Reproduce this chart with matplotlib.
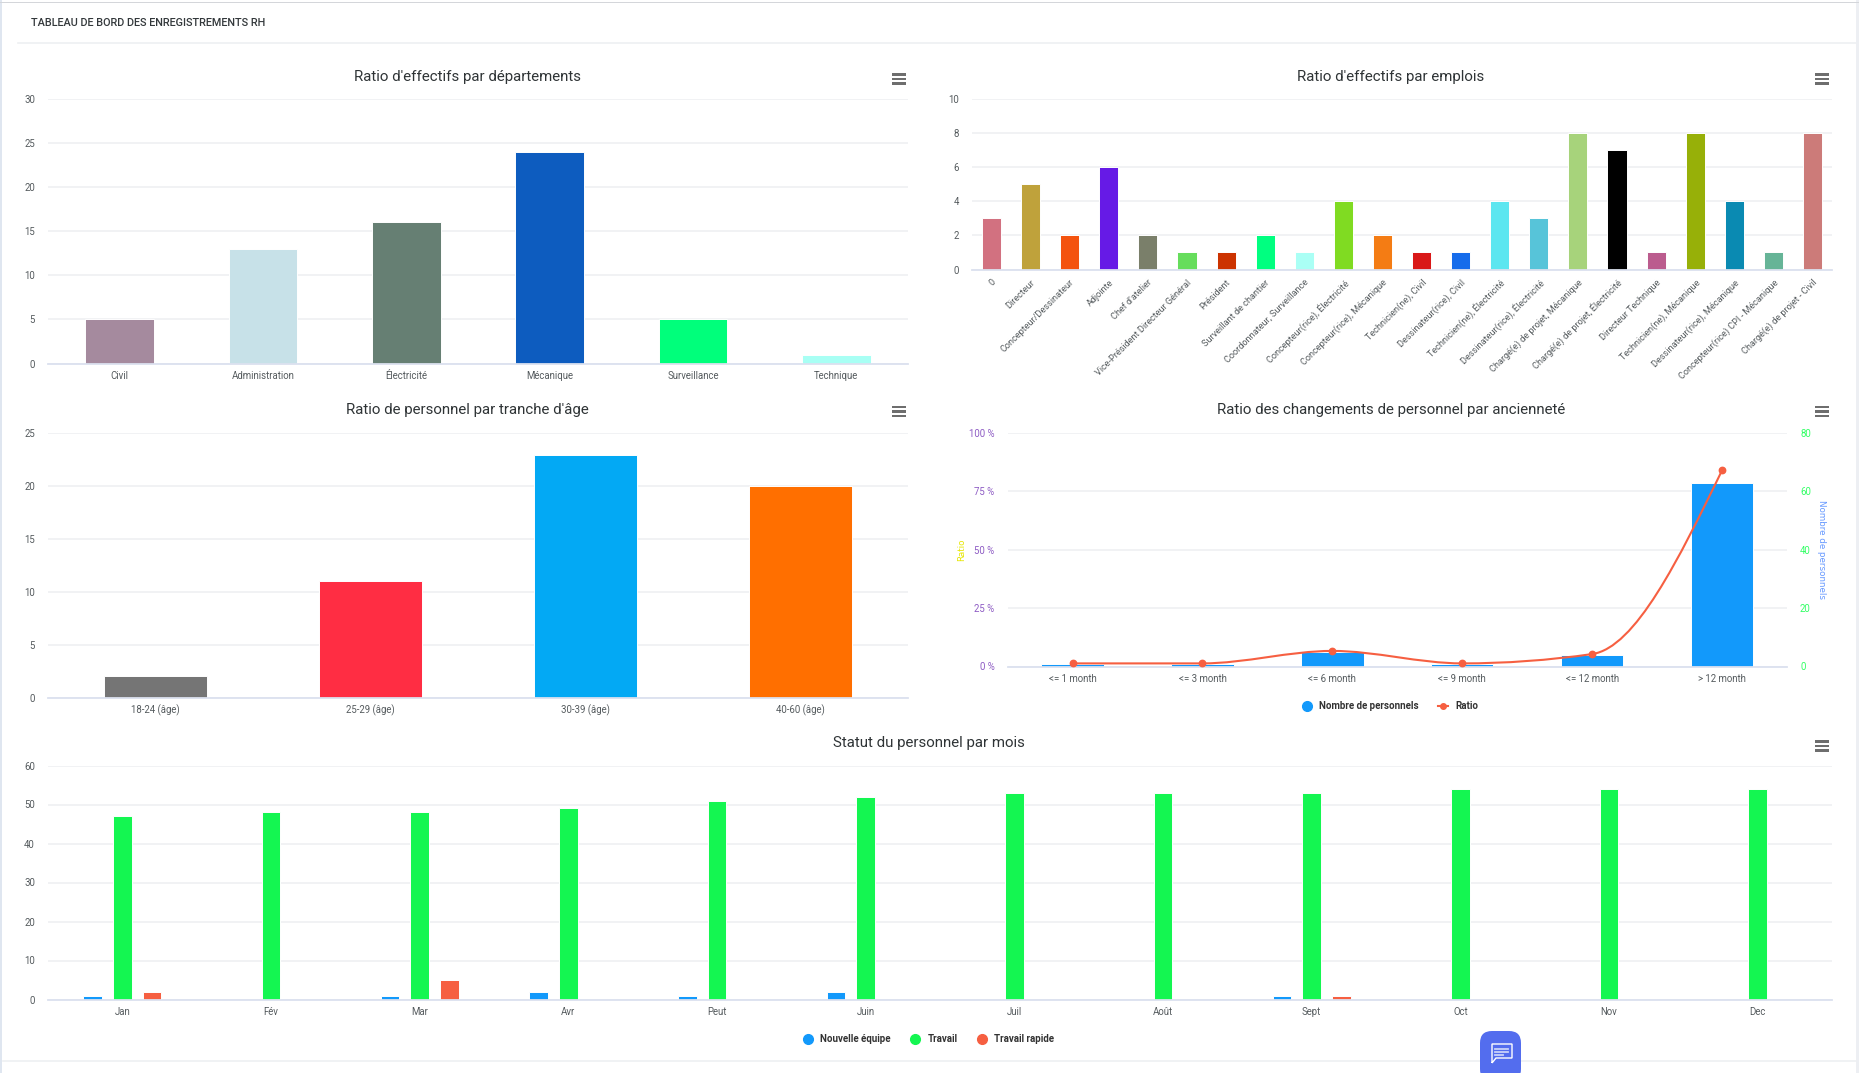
import numpy as np
import matplotlib
matplotlib.use("Agg")
import matplotlib.pyplot as plt
from matplotlib.path import Path
from matplotlib.patches import PathPatch, Rectangle, FancyBboxPatch
from matplotlib.lines import Line2D

plt.rcParams['font.family'] = ['Roboto', 'DejaVu Sans']

W, H = 1859, 1073

# ---------- data ----------
dept_labels = ["Civil", "Administration", "Électricité", "Mécanique", "Surveillance", "Technique"]
dept_values = [5, 13, 16, 24, 5, 1]
dept_colors = ["#A58A9E", "#C7E1E8", "#667F73", "#0D5CBF", "#00FF7B", "#A8FFF4"]

job_labels = ["0", "Directeur", "Concepteur/Dessinateur", "Adjointe", "Chef d'atelier",
              "Vice-Président Directeur Général", "Président", "Surveillant de chantier",
              "Coordonnateur, Surveillance", "Concepteur(rice), Électricité",
              "Concepteur(rice), Mécanique", "Technicien(ne), Civil", "Dessinateur(rice), Civil",
              "Technicien(ne), Électricité", "Dessinateur(rice), Électricité",
              "Chargé(e) de projet, Mécanique", "Chargé(e) de projet, Électricité",
              "Directeur Technique", "Technicien(ne), Mécanique", "Dessinateur(rice), Mécanique",
              "Concepteur(rice) CPI - Mécanique", "Chargé(e) de projet - Civil"]
job_values = [3, 5, 2, 6, 2, 1, 1, 2, 1, 4, 2, 1, 1, 4, 3, 8, 7, 1, 8, 4, 1, 8]
job_colors = ["#D27180", "#BFA23B", "#F4530F", "#661AE6", "#7A7F6A", "#66DD5C", "#CC3300",
              "#00FF80", "#AAFFF5", "#80DB22", "#F47C14", "#D91818", "#166CEB", "#5CE6F0",
              "#57C4D9", "#A7D37B", "#000000", "#BB5C8E", "#97B008", "#0A8AB2", "#66B497", "#CC7B79"]

age_labels = ["18-24 (âge)", "25-29 (âge)", "30-39 (âge)", "40-60 (âge)"]
age_values = [2, 11, 23, 20]
age_colors = ["#757575", "#FF2D43", "#03A9F4", "#FF6F00"]

tenure_labels = ["<= 1 month", "<= 3 month", "<= 6 month", "<= 9 month", "<= 12 month", "> 12 month"]
tenure_counts = [1, 1, 5, 1, 4, 63]
tenure_ratio = [1.33, 1.33, 6.67, 1.33, 5.33, 84.0]

months = ["Jan", "Fév", "Mar", "Avr", "Peut", "Juin", "Juil", "Août", "Sept", "Oct", "Nov", "Dec"]
new_team = [1, 0, 1, 2, 1, 2, 0, 0, 1, 0, 0, 0]
work = [47, 48, 48, 49, 51, 52, 53, 53, 53, 54, 54, 54]
fast_work = [2, 0, 5, 0, 0, 0, 0, 0, 1, 0, 0, 0]

# ---------- style ----------
TICK = "#555b5e"
GRID = "#f0f1f3"
BASE = "#dbe1ef"
TITLE = "#2f3436"
FS_TICK = 6.9
FS_TITLE = 10.8
BLUE, GREEN, RED = "#1299FB", "#14F651", "#F65F41"

fig = plt.figure(figsize=(W / 100, H / 100), dpi=100, facecolor="white")


def make_axes(left, right, top, bottom):
    return fig.add_axes([left / W, 1 - bottom / H, (right - left) / W, (bottom - top) / H])


def style(ax, ymax, step, n, title, cx, cy, box):
    left, right, top, bottom = box
    ax.set_xlim(-0.5, n - 0.5)
    ax.set_ylim(0, ymax)
    ax.set_yticks(np.arange(0, ymax + step, step))
    ax.grid(axis="y", color=GRID, lw=1.3)
    ax.set_axisbelow(True)
    for s in ("top", "right", "left"):
        ax.spines[s].set_visible(False)
    ax.spines["bottom"].set_color(BASE)
    ax.spines["bottom"].set_linewidth(1.3)
    ax.tick_params(axis="both", length=0, labelsize=FS_TICK, labelcolor=TICK)
    ax.tick_params(axis="y", pad=9.4)
    ax.tick_params(axis="x", pad=5.2)
    ax.set_title(title, fontsize=FS_TITLE, color=TITLE, va="center", pad=0,
                 x=(cx - left) / (right - left), y=(bottom - cy) / (bottom - top))


# Departments
box = (48, 908, 99, 363.5)
ax1 = make_axes(*box)
ax1.bar(range(6), dept_values, width=0.48, color=dept_colors, edgecolor="white", linewidth=0.7)
style(ax1, 30, 5, 6, "Ratio d'effectifs par départements", 468, 77.5, box)
ax1.set_xticks(range(6), dept_labels)

# Jobs
box = (972, 1832, 99, 269.5)
ax2 = make_axes(*box)
ax2.bar(range(22), job_values, width=0.49, color=job_colors, edgecolor="white", linewidth=0.7)
style(ax2, 10, 2, 22, "Ratio d'effectifs par emplois", 1391, 77.5, box)
ax2.set_xticks(range(22), job_labels, rotation=45, ha="right", va="top", rotation_mode="anchor")
ax2.tick_params(axis="x", pad=6, labelsize=6.6)

# Age
box = (48, 908, 433.5, 697.5)
ax3 = make_axes(*box)
ax3.bar(range(4), age_values, width=0.48, color=age_colors, edgecolor="white", linewidth=0.7)
style(ax3, 25, 5, 4, "Ratio de personnel par tranche d'âge", 467, 410.5, box)
ax3.set_xticks(range(4), age_labels)

# Tenure: bars on the count axis, smooth ratio line on top
box = (1007.6, 1787, 433, 666.5)
ax4b = make_axes(*box)
ax4b.bar(range(6), tenure_counts, width=0.48, color=BLUE, edgecolor="white", linewidth=0.7)
style(ax4b, 80, 20, 6, "Ratio des changements de personnel par ancienneté", 1391, 410.5, box)
ax4b.yaxis.tick_right()
ax4b.tick_params(axis="y", labelcolor="#33FF66", pad=9.4)
ax4b.set_xticks(range(6), tenure_labels)
ax4b.set_ylabel("Nombre de personnels", rotation=-90, family="DejaVu Sans", fontsize=6.3,
                color="#6699FF", va="center")
ax4b.yaxis.set_label_position("right")
ax4b.yaxis.set_label_coords((1826 - box[0]) / (box[1] - box[0]), 0.5)

ax4 = make_axes(*box)
ax4.set_zorder(ax4b.get_zorder() + 1)
ax4.patch.set_visible(False)
ax4.set_xlim(-0.5, 5.5)
ax4.set_ylim(0, 100)
ax4.set_xticks([])
ax4.set_yticks(np.arange(0, 125, 25), [f"{v} %" for v in range(0, 125, 25)])
ax4.tick_params(axis="y", length=0, labelsize=FS_TICK, labelcolor="#8E5CC4", pad=9.4)
for s in ax4.spines.values():
    s.set_visible(False)
ax4.set_ylabel("Ratio", family="DejaVu Sans", fontsize=6.3, color="#E6E600", va="center")
ax4.yaxis.set_label_coords((962 - box[0]) / (box[1] - box[0]), 0.5)


def monotone_path(y):
    """Cubic Bezier path through the points, with monotone tangents."""
    y = np.asarray(y, float)
    x = np.arange(len(y), dtype=float)
    s = np.diff(y)
    m = np.zeros_like(y)
    for i in range(1, len(y) - 1):
        if s[i - 1] * s[i] > 0:
            p = (s[i - 1] + s[i]) / 2
            m[i] = (np.sign(s[i - 1]) + np.sign(s[i])) * min(abs(s[i - 1]), abs(s[i]), 0.5 * abs(p))
    m[0] = (3 * s[0] - m[1]) / 2
    m[-1] = (3 * s[-1] - m[-2]) / 2
    verts, codes = [(x[0], y[0])], [Path.MOVETO]
    for i in range(len(y) - 1):
        verts += [(x[i] + 1 / 3, y[i] + m[i] / 3), (x[i + 1] - 1 / 3, y[i + 1] - m[i + 1] / 3),
                  (x[i + 1], y[i + 1])]
        codes += [Path.CURVE4] * 3
    return Path(verts, codes)


ax4.add_patch(PathPatch(monotone_path(tenure_ratio), fill=False, edgecolor=RED, lw=1.5, zorder=3))
ax4.plot(range(6), tenure_ratio, ls="none", marker="o", ms=4.6, color=RED, zorder=4)
ax4.legend(handles=[Line2D([], [], ls="none", marker="o", ms=7, color=BLUE, label="Nombre de personnels"),
                    Line2D([], [], color=RED, lw=1.5, marker="o", ms=4, label="Ratio")],
           ncols=2, frameon=False, loc="center",
           bbox_to_anchor=((1390.3 - box[0]) / (box[1] - box[0]), (box[3] - 706) / (box[3] - box[2])),
           prop={"size": 7.05, "weight": "bold"}, labelcolor="#333333", handlelength=1.0,
           handletextpad=0.75, columnspacing=2.0, borderpad=0)

# Monthly
box = (48, 1832, 765.5, 999.5)
ax5 = make_axes(*box)
x = np.arange(12)
ax5.bar(x - 0.2, new_team, width=0.125, color=BLUE, edgecolor="white", linewidth=0.7)
ax5.bar(x, work, width=0.125, color=GREEN, edgecolor="white", linewidth=0.7)
ax5.bar(x + 0.2, fast_work, width=0.125, color=RED, edgecolor="white", linewidth=0.7)
style(ax5, 60, 10, 12, "Statut du personnel par mois", 929, 743, box)
ax5.set_xticks(x, months)
ax5.legend(handles=[Line2D([], [], ls="none", marker="o", ms=7, color=BLUE, label="Nouvelle équipe"),
                    Line2D([], [], ls="none", marker="o", ms=7, color=GREEN, label="Travail"),
                    Line2D([], [], ls="none", marker="o", ms=7, color=RED, label="Travail rapide")],
           ncols=3, frameon=False, loc="center",
           bbox_to_anchor=((928.6 - box[0]) / (box[1] - box[0]), (box[3] - 1039) / (box[3] - box[2])),
           prop={"size": 7.05, "weight": "bold"}, labelcolor="#333333", handlelength=1.0,
           handletextpad=0.75, columnspacing=2.0, borderpad=0)

# ---------- page furniture, in pixel coordinates ----------
page = fig.add_axes([0, 0, 1, 1], zorder=20)
page.set_xlim(0, W)
page.set_ylim(H, 0)
page.axis("off")
page.patch.set_visible(False)

page.add_patch(Rectangle((0, 0), 2.5, H, color="#DFE6F0", lw=0))
page.add_patch(Rectangle((1856, 0), 3, H, color="#EDEFF3", lw=0))
page.add_patch(Rectangle((0, 1.5), W, 1.5, color="#D4D6DA", lw=0))
page.plot([18, W - 3], [43, 43], color="#EEF0F2", lw=1.2)
page.plot([3, W - 3], [1061, 1061], color="#EEF0F2", lw=1.2)
page.text(31, 22.5, "TABLEAU DE BORD DES ENREGISTREMENTS RH", fontsize=7.8, weight="medium",
          color="#33383B", va="center", ha="left")

for cx, cy in [(899, 79), (1822, 79), (899, 411.5), (1822, 411.5), (1822, 746)]:
    for dy in (-4.5, 0, 4.5):
        page.add_patch(Rectangle((cx - 7, cy + dy - 1.4), 14, 2.8, color="#6E6E6E", lw=0))

page.add_patch(FancyBboxPatch((1480, 1031), 41, 50, boxstyle="round,pad=0,rounding_size=12",
                              mutation_scale=1, fc="#536DEE", ec="none", lw=0, zorder=5))
page.add_patch(PathPatch(Path([(1492, 1063), (1492, 1044), (1512, 1044), (1512, 1058), (1496, 1058), (1492, 1063)]),
                         fill=False, ec="white", lw=1, zorder=6))
for yy, x1 in [(1048.5, 1508), (1052, 1508), (1055.2, 1503)]:
    page.plot([1495.5, x1], [yy, yy], color="#C9D2FA", lw=1.3, zorder=6)

fig.savefig("out.png", dpi=100, facecolor="white")
